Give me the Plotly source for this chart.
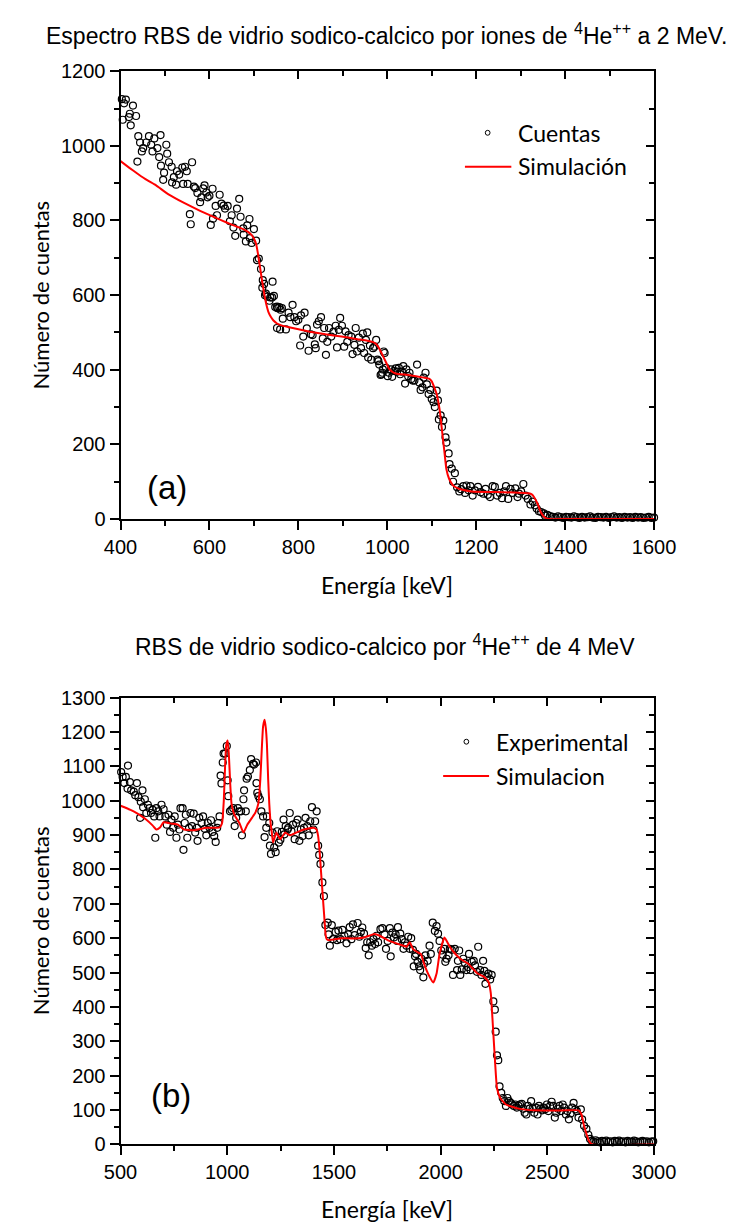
import plotly.graph_objects as go

W, H = 736, 1232

# ---------------- (a) 2 MeV ----------------
energia_a = [403, 405, 408, 412, 419, 421, 423, 428, 435, 438, 440, 444, 448, 451, 458, 464, 469, 472, 476, 483,
             487, 490, 491, 496, 498, 503, 505, 509, 515, 516, 520, 525, 527, 532, 539, 541, 545, 549, 551, 556,
             558, 561, 565, 568, 573, 579, 582, 586, 589, 593, 596, 600, 603, 607, 608, 614, 617, 623, 627, 632,
             635, 641, 646, 650, 654, 658, 662, 667, 670, 676, 677, 682, 685, 690, 691, 695, 700, 705, 707, 711,
             716, 719, 720, 723, 725, 727, 730, 735, 737, 741, 742, 745, 748, 752, 752, 753, 757, 759, 760, 763,
             765, 772, 778, 782, 787, 791, 795, 800, 804, 806, 811, 814, 819, 823, 828, 832, 837, 839, 842, 846,
             851, 855, 858, 862, 865, 869, 874, 879, 884, 887, 891, 894, 898, 903, 906, 910, 913, 919, 922, 926,
             929, 932, 936, 941, 945, 948, 952, 955, 957, 961, 964, 968, 971, 975, 978, 980, 982, 985, 987, 989,
             990, 992, 994, 997, 1001, 1004, 1008, 1011, 1015, 1019, 1022, 1026, 1029, 1033, 1036, 1040, 1043, 1047, 1050, 1054,
             1057, 1061, 1067, 1072, 1075, 1079, 1082, 1086, 1089, 1093, 1097, 1100, 1104, 1107, 1111, 1114, 1116, 1120, 1123, 1126,
             1131, 1133, 1138, 1140, 1145, 1148, 1152, 1157, 1162, 1166, 1171, 1175, 1178, 1183, 1187, 1192, 1197, 1204, 1210, 1216,
             1221, 1226, 1231, 1237, 1242, 1247, 1253, 1258, 1263, 1267, 1272, 1277, 1282, 1288, 1293, 1296, 1301, 1306, 1311, 1316,
             1322, 1327, 1332, 1336, 1341, 1346, 1352, 1355, 1360, 1366, 1372, 1378, 1384, 1390, 1396, 1402, 1408, 1414, 1420, 1426,
             1432, 1438, 1444, 1450, 1456, 1462, 1468, 1474, 1480, 1486, 1492, 1498, 1504, 1510, 1516, 1522, 1528, 1534, 1540, 1546,
             1552, 1558, 1564, 1570, 1576, 1582, 1588, 1594, 1600]
cuentas_a = [1125, 1070, 1114, 1124, 1077, 1086, 1055, 1108, 1080, 958, 1026, 1009, 985, 994, 1009, 1026, 1003, 985, 1020, 994,
             970, 1029, 947, 909, 928, 1003, 979, 956, 944, 902, 916, 896, 932, 923, 942, 898, 944, 932, 898, 817,
             790, 956, 891, 887, 874, 849, 862, 886, 894, 875, 862, 866, 788, 885, 805, 839, 814, 869, 845, 840,
             832, 839, 798, 814, 781, 759, 832, 858, 810, 779, 762, 744, 787, 804, 753, 740, 777, 746, 694, 698,
             670, 620, 640, 630, 600, 604, 596, 585, 594, 594, 636, 598, 568, 569, 512, 565, 568, 508, 561, 565,
             537, 508, 553, 541, 574, 541, 530, 534, 465, 546, 489, 553, 511, 451, 495, 493, 468, 458, 521, 530,
             541, 484, 512, 440, 475, 512, 489, 502, 518, 460, 507, 539, 518, 462, 503, 475, 493, 489, 442, 467,
             512, 449, 486, 458, 497, 445, 480, 500, 433, 465, 427, 458, 462, 480, 427, 423, 414, 386, 388, 392,
             401, 449, 445, 405, 383, 392, 401, 381, 397, 404, 395, 405, 388, 395, 410, 363, 401, 383, 392, 375,
             371, 371, 414, 366, 346, 353, 379, 392, 361, 335, 346, 322, 313, 300, 344, 318, 267, 278, 247, 264,
             219, 205, 176, 147, 135, 100, 123, 85, 74, 80, 88, 70, 90, 77, 88, 63, 77, 86, 72, 68,
             81, 65, 59, 88, 86, 63, 70, 56, 74, 88, 54, 81, 70, 82, 59, 68, 74, 94, 63, 54,
             39, 47, 37, 28, 21, 19, 15, 9, 11, 8, 6, 4, 7, 5, 3, 6, 5, 4, 7, 5,
             3, 6, 4, 5, 7, 4, 3, 6, 5, 4, 6, 3, 5, 7, 4, 5, 3, 6, 4, 5,
             3, 6, 4, 5, 3, 4, 6, 3, 4]
sim_energia_a = [400, 420, 440, 460, 480, 508, 543, 579, 607, 630, 650, 665, 677, 686, 694, 700, 705, 709, 716, 723,
                 728, 733, 738, 744, 752, 762, 790, 826, 861, 897, 933, 955, 968, 975, 981, 987, 996, 1004, 1012, 1019,
                 1047, 1082, 1094, 1100, 1105, 1111, 1118, 1123, 1128, 1133, 1139, 1145, 1150, 1158, 1167, 1189, 1260, 1309, 1318, 1325,
                 1330, 1338, 1345, 1352, 1358, 1365, 1400, 1600]
sim_cuentas_a = [959, 941, 924, 908, 894, 870, 847, 826, 811, 799, 789, 782, 776, 770, 762, 752, 737, 712, 657, 605,
                 575, 554, 542, 532, 524, 519, 511, 502, 495, 489, 482, 478, 474, 469, 459, 445, 423, 403, 394, 390,
                 386, 379, 376, 369, 355, 335, 291, 238, 186, 133, 108, 95, 88, 83, 79, 74, 72, 70, 69, 66,
                 59, 41, 19, 7, 2, 0, 0, 0]

# ---------------- (b) 4 MeV ----------------
energia_b = [503, 510, 518, 525, 533, 535, 544, 550, 562, 569, 577, 584, 592, 595, 603, 606, 614, 621, 628, 636,
             643, 651, 658, 663, 668, 677, 683, 692, 702, 710, 717, 725, 732, 739, 747, 754, 762, 769, 776, 781,
             791, 795, 801, 806, 813, 821, 828, 835, 843, 850, 858, 861, 869, 880, 887, 895, 902, 909, 917, 924,
             931, 939, 946, 953, 958, 964, 969, 973, 979, 983, 990, 998, 1002, 1005, 1013, 1020, 1028, 1035, 1042, 1050,
             1057, 1065, 1069, 1076, 1079, 1087, 1091, 1097, 1106, 1112, 1121, 1126, 1135, 1137, 1141, 1146, 1153, 1160, 1168, 1175,
             1183, 1186, 1197, 1200, 1205, 1212, 1220, 1227, 1234, 1242, 1249, 1256, 1264, 1268, 1274, 1283, 1286, 1293, 1301, 1308,
             1316, 1323, 1330, 1338, 1345, 1353, 1360, 1367, 1375, 1382, 1389, 1397, 1404, 1412, 1419, 1426, 1431, 1437, 1446, 1453,
             1460, 1471, 1475, 1481, 1490, 1496, 1508, 1515, 1521, 1530, 1540, 1549, 1559, 1567, 1574, 1582, 1589, 1597, 1611, 1619,
             1626, 1633, 1641, 1649, 1656, 1663, 1670, 1678, 1685, 1693, 1700, 1707, 1718, 1727, 1737, 1744, 1752, 1762, 1766, 1774,
             1781, 1789, 1796, 1800, 1811, 1818, 1826, 1833, 1840, 1848, 1855, 1862, 1870, 1874, 1880, 1885, 1892, 1899, 1904, 1910,
             1919, 1922, 1929, 1939, 1948, 1954, 1963, 1973, 1981, 1988, 1995, 2003, 2010, 2018, 2022, 2028, 2037, 2043, 2052, 2058,
             2066, 2077, 2081, 2087, 2092, 2099, 2106, 2114, 2121, 2128, 2133, 2140, 2146, 2155, 2161, 2170, 2176, 2185, 2191, 2199,
             2205, 2210, 2217, 2224, 2232, 2239, 2247, 2254, 2258, 2264, 2270, 2276, 2284, 2291, 2298, 2306, 2313, 2320, 2328, 2335,
             2343, 2350, 2357, 2365, 2372, 2380, 2387, 2394, 2402, 2409, 2417, 2424, 2431, 2439, 2446, 2454, 2461, 2468, 2476, 2483,
             2490, 2498, 2505, 2513, 2520, 2527, 2535, 2542, 2550, 2557, 2564, 2572, 2579, 2587, 2594, 2601, 2609, 2616, 2623, 2631,
             2638, 2646, 2657, 2663, 2672, 2683, 2692, 2700, 2708, 2716, 2726, 2736, 2746, 2756, 2766, 2776, 2786, 2796, 2806, 2816,
             2826, 2836, 2846, 2856, 2866, 2876, 2886, 2896, 2906, 2916, 2926, 2936, 2946, 2956, 2966, 2976, 2986, 2996]
cuentas_b = [1083, 1069, 1051, 1069, 1035, 1102, 1054, 1030, 1026, 1016, 1051, 1010, 950, 997, 1030, 981, 1004, 964, 988, 978,
             964, 973, 954, 892, 978, 969, 954, 988, 975, 954, 930, 959, 909, 945, 921, 954, 892, 930, 916, 978,
             978, 857, 935, 959, 892, 921, 964, 926, 962, 907, 921, 883, 950, 935, 954, 918, 899, 935, 921, 943,
             909, 897, 880, 921, 935, 954, 1073, 1050, 1111, 1137, 1137, 1159, 1059, 1013, 969, 973, 978, 926, 950, 978,
             969, 969, 899, 1004, 1030, 969, 1064, 1070, 1089, 1121, 1107, 1105, 1111, 1051, 1023, 1013, 1004, 969, 954, 894,
             921, 954, 935, 869, 845, 907, 864, 850, 911, 878, 886, 909, 945, 902, 926, 916, 921, 964, 911, 930,
             888, 935, 945, 883, 916, 897, 921, 950, 926, 899, 940, 981, 916, 940, 969, 869, 842, 816, 762, 722,
             638, 645, 611, 578, 638, 597, 618, 594, 622, 597, 624, 607, 585, 611, 632, 597, 640, 609, 644, 604,
             618, 631, 613, 571, 588, 550, 588, 578, 597, 583, 607, 588, 626, 629, 611, 569, 592, 629, 547, 616,
             602, 611, 592, 632, 613, 597, 569, 588, 578, 604, 569, 600, 566, 518, 547, 554, 531, 518, 507, 540,
             486, 526, 550, 534, 578, 554, 645, 621, 635, 613, 592, 564, 552, 569, 531, 540, 550, 569, 566, 493,
             569, 507, 534, 564, 493, 509, 540, 528, 507, 516, 554, 507, 531, 534, 521, 502, 575, 507, 493, 534,
             505, 467, 488, 497, 480, 493, 416, 392, 328, 259, 245, 169, 150, 135, 126, 112, 135, 126, 121, 116,
             112, 116, 107, 112, 116, 118, 104, 92, 87, 112, 104, 126, 104, 92, 107, 87, 112, 104, 99, 107,
             102, 116, 97, 112, 124, 112, 78, 92, 104, 112, 97, 116, 107, 87, 97, 73, 90, 107, 121, 102,
             97, 78, 102, 73, 54, 45, 28, 16, 10, 8, 12, 9, 6, 10, 8, 11, 7, 9, 6, 10,
             8, 11, 7, 9, 6, 10, 8, 7, 11, 9, 6, 8, 10, 7, 9, 6, 8, 9]
sim_energia_b = [500, 547, 580, 620, 650, 668, 685, 702, 740, 769, 798, 843, 902, 950, 965, 976, 984, 990, 995, 1002,
                 1008, 1014, 1020, 1030, 1038, 1057, 1076, 1094, 1116, 1131, 1146, 1155, 1162, 1168, 1175, 1181, 1186, 1192, 1197, 1204,
                 1209, 1215, 1230, 1249, 1271, 1293, 1323, 1360, 1404, 1419, 1426, 1432, 1440, 1448, 1455, 1461, 1466, 1478, 1537, 1582,
                 1641, 1690, 1715, 1759, 1826, 1840, 1855, 1870, 1892, 1907, 1922, 1944, 1966, 1981, 1995, 2018, 2040, 2062, 2092, 2128,
                 2173, 2202, 2224, 2235, 2244, 2254, 2264, 2279, 2306, 2365, 2439, 2587, 2646, 2660, 2672, 2683, 2695, 2710, 3000]
sim_cuentas_b = [985, 973, 962, 945, 928, 916, 922, 937, 933, 930, 916, 914, 921, 921, 922, 935, 1000, 1100, 1160, 1175,
                 1130, 1050, 992, 965, 954, 935, 907, 930, 950, 964, 992, 1060, 1150, 1215, 1235, 1210, 1164, 1060, 992, 930,
                 907, 878, 907, 888, 907, 899, 907, 916, 921, 916, 897, 860, 790, 720, 660, 610, 597, 594, 600, 599,
                 602, 612, 607, 592, 578, 575, 588, 569, 559, 554, 526, 493, 471, 497, 554, 602, 578, 559, 540, 526,
                 497, 488, 473, 440, 354, 250, 164, 135, 116, 104, 99, 99, 99, 87, 54, 31, 10, 0, 0]


def px(x):
    return x / W


def py(y):
    return 1 - y / H


XDOM = [px(109.3), px(672.7)]
DOM_A = [py(517.3), py(61.3)]
DOM_B = [py(1154), py(699)]

ARIAL = "Liberation Sans, Arial"
CALIBRI = "Lato, Carlito, Calibri"
TICKFONT = dict(family=ARIAL, size=20, color="black")

marker_style = dict(symbol="circle-open", size=7, color="black", line=dict(width=1.2, color="black"))
sim_line = dict(color="#ff0000", width=2, shape="spline", smoothing=0.4)

fig = go.Figure()
fig.add_trace(go.Scatter(x=energia_a, y=cuentas_a, mode="markers", marker=marker_style,
                         xaxis="x", yaxis="y", showlegend=False, cliponaxis=False))
fig.add_trace(go.Scatter(x=sim_energia_a, y=sim_cuentas_a, mode="lines", line=sim_line,
                         xaxis="x", yaxis="y", showlegend=False))
fig.add_trace(go.Scatter(x=energia_b, y=cuentas_b, mode="markers", marker=marker_style,
                         xaxis="x2", yaxis="y2", showlegend=False, cliponaxis=False))
fig.add_trace(go.Scatter(x=sim_energia_b, y=sim_cuentas_b, mode="lines", line=sim_line,
                         xaxis="x2", yaxis="y2", showlegend=False))
# empty traces that carry the mirrored (top / right) axes
fig.add_trace(go.Scatter(x=[], y=[], xaxis="x3", yaxis="y3", showlegend=False))
fig.add_trace(go.Scatter(x=[], y=[], xaxis="x4", yaxis="y4", showlegend=False))


def main_axis(domain, rng, dtick, mdtick, anchor):
    return dict(domain=domain, range=rng, anchor=anchor, tick0=rng[0], dtick=dtick,
                ticks="outside", ticklen=9, tickwidth=1.5, tickcolor="black",
                minor=dict(dtick=mdtick, tick0=rng[0], ticks="outside", ticklen=5, tickwidth=1.5, tickcolor="black"),
                showline=True, linewidth=2, linecolor="black", showgrid=False, zeroline=False,
                tickfont=TICKFONT, fixedrange=True)


def mirror_axis(domain, rng, dtick, mdtick, anchor, overlaying, side):
    return dict(domain=domain, range=rng, anchor=anchor, overlaying=overlaying, side=side,
                tick0=rng[0], dtick=dtick, ticks="inside", ticklen=8, tickwidth=1.5, tickcolor="black",
                minor=dict(dtick=mdtick, tick0=rng[0], ticks="inside", ticklen=5, tickwidth=1.5, tickcolor="black"),
                showline=True, linewidth=2, linecolor="black", showgrid=False, zeroline=False,
                showticklabels=False, fixedrange=True)


def note(text, x, y, size, family, anchor="center", angle=0):
    return dict(text=text, x=px(x), y=py(y), xref="paper", yref="paper", showarrow=False,
                xanchor=anchor, yanchor="middle", textangle=angle,
                font=dict(family=family, size=size, color="black"))


annotations = [
    note("Espectro RBS de vidrio sodico-calcico por iones de <sup>4</sup>He<sup>++</sup> a 2 MeV.", 390, 23, 23, ARIAL),
    note("RBS de vidrio sodico-calcico por <sup>4</sup>He<sup>++</sup> de 4 MeV", 389, 646, 23, ARIAL),
    note("Energía [keV]", 391, 584, 23, CALIBRI),
    note("Energía [keV]", 391, 1220, 23, CALIBRI),
    note("Número de cuentas", 25, 289, 22, CALIBRI, angle=-90),
    note("Número de cuentas", 25, 926, 22, CALIBRI, angle=-90),
    note("(a)", 158, 485, 33, ARIAL),
    note("(b)", 163, 1104, 33, ARIAL),
    note("Cuentas", 527, 124, 23, CALIBRI, anchor="left"),
    note("Simulación", 527, 158, 23, CALIBRI, anchor="left"),
    note("Experimental", 504, 744, 23, CALIBRI, anchor="left"),
    note("Simulacion", 504, 779, 23, CALIBRI, anchor="left"),
]

shapes = [
    dict(type="circle", xref="paper", yref="paper", x0=px(494.5), x1=px(499.5), y0=py(126.5), y1=py(121.5),
         line=dict(color="black", width=1)),
    dict(type="line", xref="paper", yref="paper", x0=px(473), x1=px(522), y0=py(158.5), y1=py(158.5),
         line=dict(color="#ff0000", width=2)),
    dict(type="circle", xref="paper", yref="paper", x0=px(472), x1=px(477), y0=py(746.5), y1=py(741.5),
         line=dict(color="black", width=1)),
    dict(type="line", xref="paper", yref="paper", x0=px(450), x1=px(498.5), y0=py(779), y1=py(779),
         line=dict(color="#ff0000", width=2)),
]

fig.update_layout(
    width=W, height=H,
    margin=dict(l=0, r=0, t=0, b=0),
    paper_bgcolor="white", plot_bgcolor="white",
    showlegend=False,
    xaxis=main_axis(XDOM, [400, 1600], 200, 100, "y"),
    yaxis=main_axis(DOM_A, [0, 1200], 200, 100, "x"),
    xaxis2=main_axis(XDOM, [500, 3000], 500, 250, "y2"),
    yaxis2=main_axis(DOM_B, [0, 1300], 100, 50, "x2"),
    xaxis3=mirror_axis(XDOM, [400, 1600], 200, 100, "y3", "x", "top"),
    yaxis3=mirror_axis(DOM_A, [0, 1200], 200, 100, "x3", "y", "right"),
    xaxis4=mirror_axis(XDOM, [500, 3000], 500, 250, "y4", "x2", "top"),
    yaxis4=mirror_axis(DOM_B, [0, 1300], 100, 50, "x4", "y2", "right"),
    annotations=annotations,
    shapes=shapes,
)

fig.write_html("out.html")
